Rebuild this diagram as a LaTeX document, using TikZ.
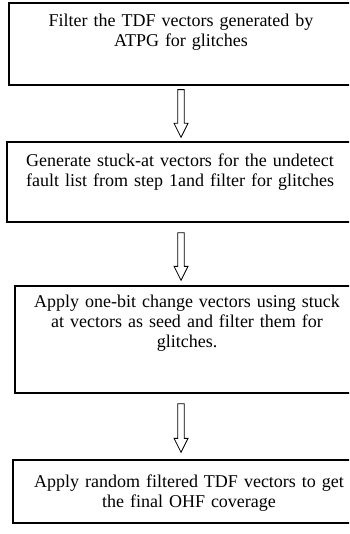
\documentclass[tikz,border=0pt]{standalone}
\usepackage{fontspec}
\setmainfont{Liberation Serif}
\usetikzlibrary{calc}
\begin{document}
\begin{tikzpicture}[x=1pt,y=-1pt,
  box/.style={draw=black,line width=1.3pt,rectangle,inner sep=0pt},
  txt/.style={anchor=base,align=center,text width=340pt,inner sep=0pt,font=\fontsize{18}{20}\selectfont},
  blk/.style={draw=black,line width=0.8pt,fill=white,line join=miter}]
\path[use as bounding box] (0,0) rectangle (349,534);
\clip (0,0) rectangle (349,534);
% boxes
\node[box,minimum width=343pt,minimum height=82pt] (b1) at (180.5,44) {};
\node[box,minimum width=345pt,minimum height=80pt] (b2) at (179.5,182) {};
\node[box,minimum width=345pt,minimum height=107pt] (b3) at (187.5,339.5) {};
\node[box,minimum width=352pt,minimum height=63pt] (b4) at (189,491.5) {};
% texts
\node[txt] (t1) at (181,27) {Filter the TDF vectors generated by\\ATPG for glitches};
\node[txt] (t2) at (180,167) {Generate stuck-at vectors for the undetect\\fault list from step 1and filter for glitches};
\node[txt] (t3) at (187,307) {Apply one-bit change vectors using stuck\\at vectors as seed and filter them for\\glitches.};
\node[txt] (t4) at (189,487) {Apply random filtered TDF vectors to get\\the final OHF coverage};
% arrow end points
\coordinate (a1s) at ($(b1.south)+(0.5,4)$);
\coordinate (a1e) at ($(b2.north)+(1.5,-4)$);
\coordinate (a2s) at ($(b2.south)+(1.5,10)$);
\coordinate (a2e) at ($(b3.north)+(-6.5,-5)$);
\coordinate (a3s) at ($(b3.south)+(-6.5,10)$);
\coordinate (a3e) at ($(b4.north)+(-8,-7)$);
% hollow block arrows
\foreach \s/\e in {a1s/a1e,a2s/a2e,a3s/a3e}{
  \draw[blk] ($(\s)+(-3.3,0)$) -- ($(\e)+(-3.3,-14)$) -- ($(\e)+(-7,-14)$) -- (\e)
    -- ($(\e)+(7,-14)$) -- ($(\e)+(3.3,-14)$) -- ($(\s)+(3.3,0)$) -- cycle;
}
\end{tikzpicture}
\end{document}
